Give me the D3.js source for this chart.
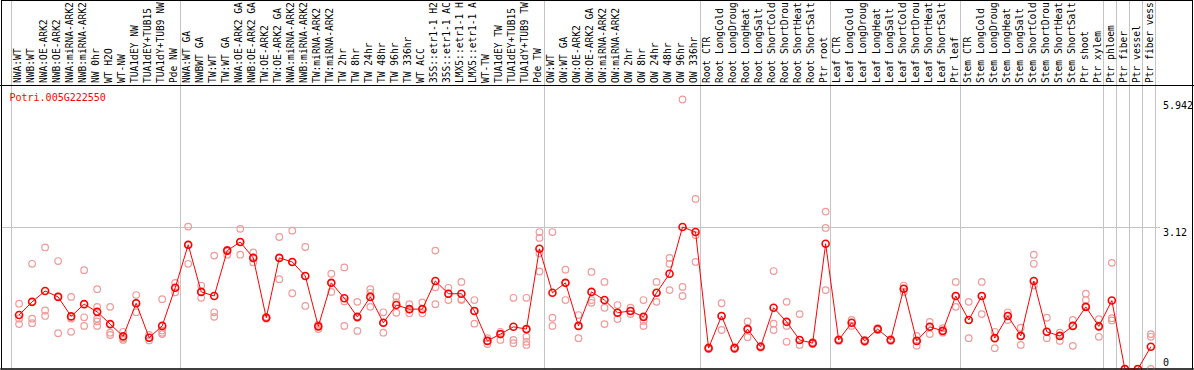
<!DOCTYPE html>
<html><head><meta charset="utf-8">
<script src="https://cdn.jsdelivr.net/npm/d3@7"></script>
<style>html,body{margin:0;padding:0;background:#fff;} svg{display:block}</style>
</head><body>
<svg id="c" width="1194" height="370"></svg>
<script>
const title = "Potri.005G222550";
const categories = [
 "NWA:WT","NWB:WT","NWA:OE-ARK2","NWB:OE-ARK2","NWA:miRNA-ARK2","NWB:miRNA-ARK2","NW 0hr","WT H2O","WT-NW","TUA1dEY NW","TUA1dEY+TUB15","TUA1dY+TUB9 NW","Pde NW",
 "NWA:WT GA","NWBWT GA","TW:WT","TW:WT GA","NWA:OE-ARK2 GA","NWB:OE-ARK2 GA","TW:OE-ARK2","TW:OE-ARK2 GA","NWA:miRNA-ARK2","NWB:miRNA-ARK2","TW:miRNA-ARK2","TW:miRNA-ARK2","TW 2hr","TW 8hr","TW 24hr","TW 48hr","TW 96hr","TW 336hr","WT ACC","35S::etr1-1 H2","35S::etr1-1 AC","LMX5::etr1-1 H","LMX5::etr1-1 A","WT-TW","TUA1dEY TW","TUA1dEY+TUB15","TUA1dY+TUB9 TW","Pde TW",
 "OW:WT","OW:WT GA","OW:OE-ARK2","OW:OE-ARK2 GA","OW:miRNA-ARK2","OW:miRNA-ARK2","OW 2hr","OW 8hr","OW 24hr","OW 48hr","OW 96hr","OW 336hr",
 "Root CTR","Root LongCold","Root LongDroug","Root LongHeat","Root LongSalt","Root ShortCold","Root ShortDrou","Root ShortHeat","Root ShortSalt","Ptr root",
 "Leaf CTR","Leaf LongCold","Leaf LongDroug","Leaf LongHeat","Leaf LongSalt","Leaf ShortCold","Leaf ShortDrou","Leaf ShortHeat","Leaf ShortSalt","Ptr leaf",
 "Stem CTR","Stem LongCold","Stem LongDroug","Stem LongHeat","Stem LongSalt","Stem ShortCold","Stem ShortDrou","Stem ShortHeat","Stem ShortSalt","Ptr shoot","Ptr xylem",
 "Ptr phloem","Ptr fiber","Ptr vessel","Ptr fiber vess"
];
const means = [
 1.19,1.48,1.72,1.59,1.16,1.43,1.26,0.99,0.72,1.45,0.69,0.95,1.79,
 2.74,1.70,1.61,2.61,2.80,2.45,1.13,2.45,2.36,2.05,0.94,1.90,1.56,1.15,1.59,1.02,1.41,1.32,1.32,1.94,1.66,1.66,1.28,0.62,0.77,0.93,0.88,2.65,
 1.68,1.90,0.95,1.70,1.52,1.24,1.28,1.15,1.68,2.10,3.13,3.02,
 0.46,1.17,0.46,0.88,0.49,1.35,1.04,0.64,0.57,2.76,
 0.64,1.02,0.62,0.88,0.64,1.77,0.62,0.93,0.84,1.61,
 1.08,1.61,0.68,1.17,0.73,1.94,0.82,0.73,0.95,1.37,0.94,
 1.51,0,0,0.49
];
const replicates = [
 [1.44,1.11,0.99],[2.32,1.11,1.01],[2.68,1.29,1.17],[2.38,1.60,0.79],[1.59,1.11,0.82],[2.18,1.14,0.95],[1.76,1.37,1.11,1.05,0.95],[1.37,0.80,0.75],[0.82,0.67,0.64],[1.63,1.45,1.25],[0.75,0.69,0.63],[1.54,0.85,0.80,0.77],[1.90,1.79,1.69],
 [3.14,2.73,2.32],[1.84,1.70,1.57],[2.50,1.25,1.15],[2.63,2.60,2.52],[3.09,2.80,2.52],[2.57,2.46,2.35],[1.15,1.13,1.11],[2.91,2.45,1.98],[3.05,2.36,1.67],[2.69,2.05,1.39],[0.98,0.94,0.88],[2.10,1.90,1.70],[2.24,1.49,0.95],[1.48,1.13,0.84],[1.76,1.68,1.37],[1.25,1.02,0.80],
 [1.60,1.47,1.24],[1.43,1.32,1.23],[1.47,1.32,1.23],[2.61,1.80,1.43],[1.79,1.66,1.52],[1.92,1.52,1.54],[1.52,1.28,1.00],[0.68,0.62,0.55],[0.82,0.77,0.64],[1.57,0.64,0.57],[1.57,0.71,0.60,0.53],[3.02,2.89,2.55,2.15],
 [3.02,1.13,0.95],[2.19,1.90,1.52],[1.19,0.95,0.68],[2.14,1.52,1.46],[1.92,1.35,0.99],[1.41,1.24,1.10],[1.35,1.28,1.21],[1.52,1.06,0.95],[1.92,1.68,1.48],[2.45,2.32,1.74],[5.942,1.81,1.61],[3.75,2.95,2.36],
 [0.48,0.46,0.44],[1.45,1.17,0.86],[0.48,0.46,0.44],[1.05,0.88,0.70],[0.51,0.49,0.47],[2.16,1.00,0.86],[1.48,0.95,0.60],[1.21,0.64,0.53],[0.59,0.57,0.55],[3.47,3.11,1.74],
 [0.66,0.64,0.62],[1.08,1.02,0.95],[0.64,0.62,0.60],[0.90,0.88,0.86],[0.66,0.64,0.62],[1.84,1.77,1.70],[0.73,0.62,0.51],[1.04,0.93,0.77],[0.90,0.84,0.80],[1.92,1.61,1.37],
 [1.48,1.08,0.68],[1.92,1.61,1.21],[0.82,0.68,0.46],[1.17,1.08,1.25],[0.91,0.73,0.53],[2.52,2.32,1.84],[1.13,0.82,0.68],[0.80,0.73,0.62],[1.08,0.95,0.51],[1.66,1.52,1.37],[0.94,0.71,1.10],
 [2.34,1.12,1.07],[0,0,0],[0,0,0],[0.77,0.71,0]
];
const groupStarts = [0,13,41,53,63,73,84,85,86,87];
const yTicks = [0, 3.12, 5.942];
const gridTicks = [3.12];

const W = 1194, H = 370;
const font = "'DejaVu Sans Mono', 'Liberation Mono', monospace";
const svg = d3.select("#c");

const x = d3.scaleBand().domain(d3.range(categories.length)).range([10.5, 1155.3]);
const bw = x.bandwidth();
const px = i => x(i) + bw * 0.66;
const y = d3.scaleLinear().domain([0, 5.942]).range([369, 99.5]);

svg.append("rect").attr("width", W).attr("height", H).attr("fill", "#fff");

// vertical group separators
const seps = groupStarts.map(i => x(i)).concat([x.range()[1]]);
svg.append("g").selectAll("line").data(seps).join("line")
  .attr("x1", d => Math.round(d) + 0.5).attr("x2", d => Math.round(d) + 0.5)
  .attr("y1", 0).attr("y2", 369)
  .attr("stroke", "#c4c4c4").attr("stroke-width", 1);

// horizontal grid
svg.append("g").selectAll("line").data(gridTicks).join("line")
  .attr("x1", 1).attr("x2", 1160)
  .attr("y1", d => Math.round(y(d)) + 0.5).attr("y2", d => Math.round(y(d)) + 0.5)
  .attr("stroke", "#c4c4c4").attr("stroke-width", 1);

// frame and label separator
svg.append("line").attr("x1", 0).attr("x2", W).attr("y1", 85.5).attr("y2", 85.5).attr("stroke", "#000");
svg.append("rect").attr("x", 1.5).attr("y", 0.5).attr("width", 1191).attr("height", 368.5)
  .attr("fill", "none").attr("stroke", "#000");

// category labels
svg.append("g").selectAll("text").data(categories).join("text")
  .attr("transform", (d, i) => `translate(${x(i) + 10.4},83) rotate(-90)`)
  .attr("font-family", font).attr("font-size", 9.6).attr("fill", "#000")
  .text(d => d);

// title
svg.append("text").attr("x", 9.5).attr("y", 101).attr("font-family", font).attr("font-size", 10)
  .attr("fill", "#ff0000").text(title);

// replicate circles
const repPts = [];
replicates.forEach((arr, i) => arr.forEach(v => repPts.push([i, v])));
svg.append("g").selectAll("circle").data(repPts).join("circle")
  .attr("cx", d => px(d[0])).attr("cy", d => y(d[1])).attr("r", 3.3)
  .attr("fill", "none").attr("stroke", "#f29a9a").attr("stroke-width", 1.2);

// mean line
svg.append("path").datum(means)
  .attr("d", d3.line().x((d, i) => px(i)).y(d => y(d)))
  .attr("fill", "none").attr("stroke", "#ff0000").attr("stroke-width", 1);

// mean circles
svg.append("g").selectAll("circle").data(means).join("circle")
  .attr("cx", (d, i) => px(i)).attr("cy", d => y(d)).attr("r", 3.5)
  .attr("fill", "none").attr("stroke", "#ff0000").attr("stroke-width", 1.6);

// y tick labels
svg.append("g").selectAll("text").data(yTicks).join("text")
  .attr("x", 1163)
  .attr("y", d => Math.min(y(d) + 9, 366))
  .attr("font-family", font).attr("font-size", 10).attr("fill", "#000")
  .text(d => d);

// redraw bottom edge over data
svg.append("line").attr("x1", 0).attr("x2", W).attr("y1", 369).attr("y2", 369).attr("stroke", "#000");
</script>
</body></html>
